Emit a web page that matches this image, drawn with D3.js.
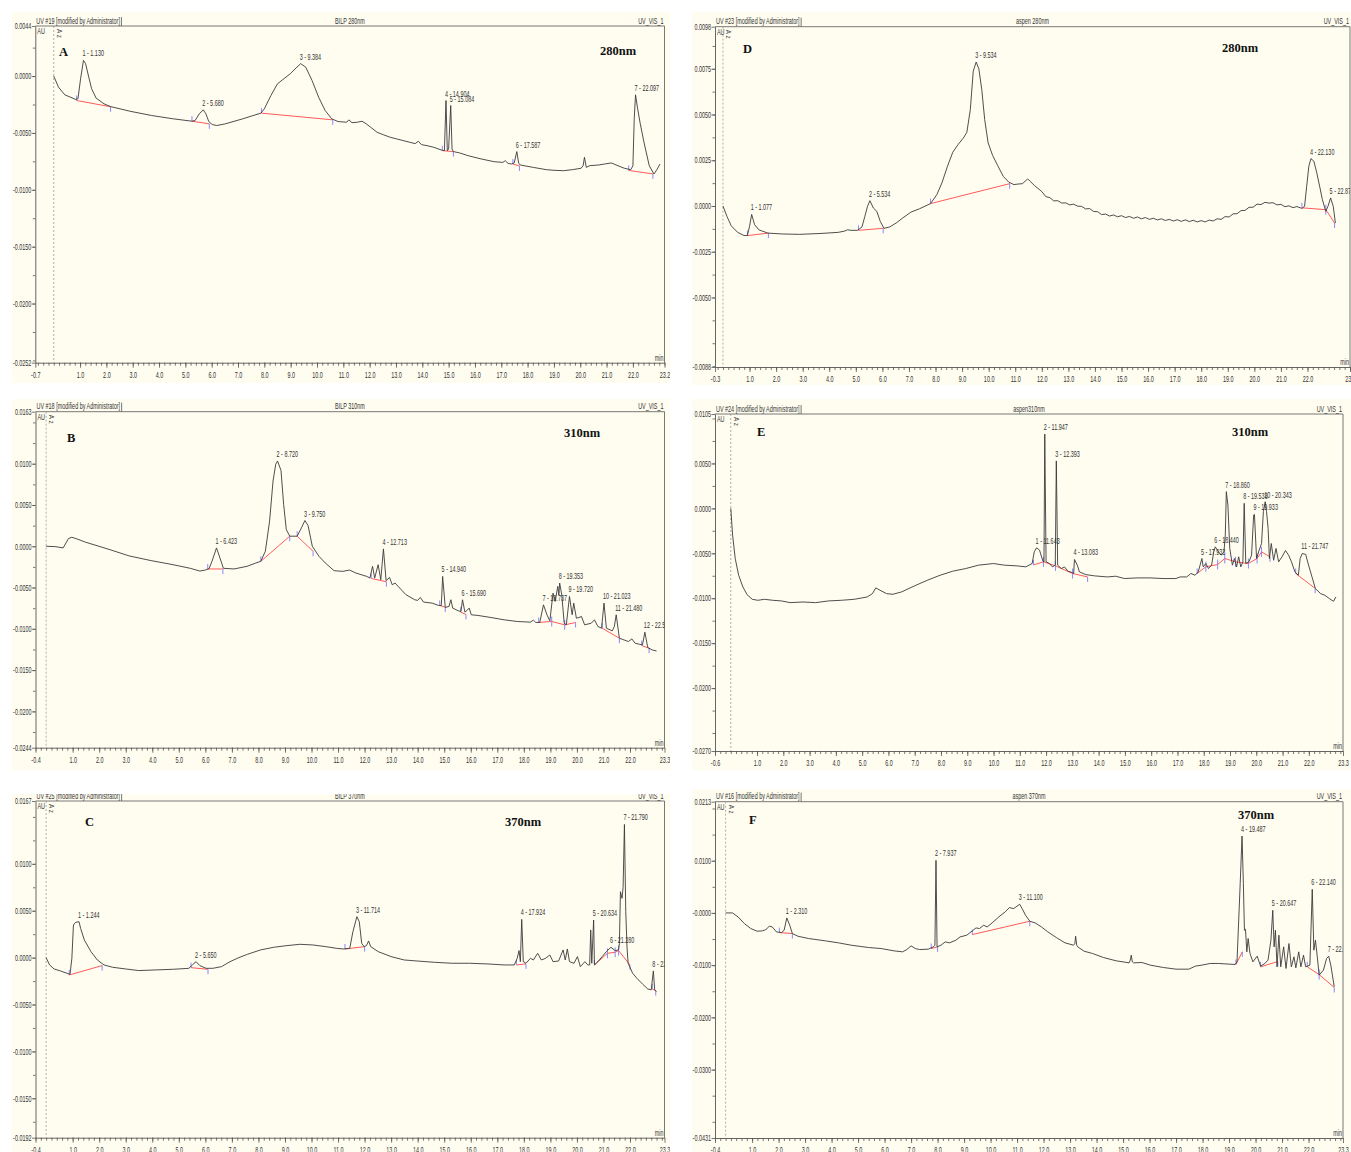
<!DOCTYPE html>
<html>
<head>
<meta charset="utf-8">
<script src="https://cdnjs.cloudflare.com/ajax/libs/d3/7.8.5/d3.min.js"></script>
<style>
body { margin: 0; background: #fff; }
</style>
</head>
<body>
<svg id="chart"></svg>
<script>
// ---- data: [time (min), absorbance (AU)] ----

let traceA = [[0.0,0.0],[0.18,-0.00097],[0.42,-0.00165],[0.84,-0.00206],[0.92,-0.002],[1.02,-0.00024],[1.13,0.00138],[1.21,0.00109],[1.33,-0.00009],[1.44,-0.00112],[1.61,-0.00194],[1.91,-0.00244],[2.15,-0.00268],[2.89,-0.00309],[3.72,-0.00347],[4.54,-0.00376],[5.25,-0.00397],[5.37,-0.00391],[5.53,-0.00332],[5.68,-0.00297],[5.78,-0.00332],[5.89,-0.004],[6.02,-0.00426],[6.19,-0.00435],[6.52,-0.0042],[7.18,-0.00376],[7.87,-0.00326],[8.0,-0.00288],[8.25,-0.00171],[8.5,-0.00068],[8.74,-0.00024],[8.99,0.00021],[9.24,0.00079],[9.38,0.00109],[9.57,0.00079],[9.81,-0.00038],[10.06,-0.00185],[10.31,-0.00303],[10.56,-0.00376],[10.8,-0.004],[11.13,-0.00406],[11.21,-0.00385],[11.33,-0.0041],[11.54,-0.00406],[11.71,-0.00397],[11.87,-0.0042],[12.04,-0.0045],[12.28,-0.00494],[12.53,-0.00517],[12.78,-0.00538],[13.03,-0.00553],[13.27,-0.00567],[13.52,-0.00582],[13.73,-0.00594],[13.85,-0.00573],[13.97,-0.00603],[14.18,-0.00612],[14.43,-0.00626],[14.76,-0.00653],[14.84,-0.00655],[14.9,-0.00215],[14.95,-0.00656],[15.0,-0.00641],[15.08,-0.00259],[15.13,-0.00641],[15.18,-0.00664],[15.42,-0.00676],[15.74,-0.007],[16.24,-0.00729],[16.73,-0.00753],[17.06,-0.00759],[17.15,-0.00744],[17.26,-0.00768],[17.39,-0.00773],[17.49,-0.00764],[17.59,-0.00664],[17.66,-0.00764],[17.72,-0.00782],[18.22,-0.00803],[18.71,-0.00823],[19.04,-0.00829],[19.37,-0.00832],[19.7,-0.00823],[20.03,-0.00811],[20.11,-0.00788],[20.16,-0.00714],[20.23,-0.00803],[20.36,-0.00788],[20.69,-0.00782],[20.93,-0.00773],[21.18,-0.00764],[21.43,-0.00788],[21.68,-0.00811],[21.92,-0.00823],[22.0,-0.00788],[22.05,-0.00376],[22.1,-0.00165],[22.18,-0.00288],[22.28,-0.0042],[22.42,-0.00582],[22.62,-0.00788],[22.8,-0.00861],[22.91,-0.00823],[23.03,-0.00773]]
let peaksA = [["1 - 1.130",1.13,0.00138],["2 - 5.680",5.68,-0.00297],["3 - 9.384",9.38,0.00109],["4 - 14.904",14.9,-0.00215],["5 - 15.084",15.08,-0.00259],["6 - 17.587",17.59,-0.00664],["7 - 22.097",22.1,-0.00165]]
let baseA = [[0.87,-0.00215,2.16,-0.0027],[5.25,-0.00397,5.91,-0.0042],[7.89,-0.00326,10.6,-0.00385],[14.76,-0.00656,15.18,-0.00664],[17.44,-0.00774,17.69,-0.0079],[21.84,-0.0083,22.76,-0.0086]]

let traceD = [[0.0,0.0],[0.15,-0.00057],[0.31,-0.00108],[0.55,-0.00144],[0.79,-0.00161],[0.92,-0.00162],[1.0,-0.00111],[1.08,-0.00046],[1.19,-0.00102],[1.35,-0.0013],[1.68,-0.00148],[2.24,-0.00153],[2.89,-0.00155],[3.69,-0.0015],[4.34,-0.00144],[4.58,-0.00137],[4.69,-0.0013],[4.82,-0.00133],[5.06,-0.00133],[5.23,-0.00115],[5.34,-0.00057],[5.44,-0.00002],[5.53,0.00029],[5.66,-0.00011],[5.79,-0.00029],[5.92,-0.00084],[6.06,-0.00122],[6.27,-0.00115],[6.52,-0.00093],[6.76,-0.00066],[7.08,-0.00033],[7.4,-0.00015],[7.81,0.00013],[8.05,0.00062],[8.24,0.00126],[8.45,0.00217],[8.65,0.00294],[8.85,0.00336],[9.05,0.00372],[9.18,0.00403],[9.31,0.00527],[9.42,0.00737],[9.53,0.00787],[9.63,0.0075],[9.74,0.00637],[9.85,0.00473],[9.98,0.00345],[10.15,0.00276],[10.34,0.00221],[10.55,0.00162],[10.76,0.0013],[10.95,0.00117],[11.11,0.0012],[11.27,0.00122],[11.47,0.00148],[11.56,0.00135],[11.73,0.00111],[12.0,0.00079],[12.15,0.00051],[12.3,0.00046],[12.45,0.00028],[12.6,0.00029],[12.75,0.00016],[12.9,0.00017],[13.05,0.00006],[13.2,0.0001],[13.35,-0.00001],[13.5,-0.00002],[13.65,-0.00016],[13.8,-0.00014],[13.95,-0.0003],[14.1,-0.00031],[14.25,-0.00047],[14.4,-0.00044],[14.55,-0.00055],[14.7,-0.00049],[14.85,-0.00059],[15.0,-0.00053],[15.15,-0.00063],[15.3,-0.00057],[15.45,-0.00067],[15.6,-0.0006],[15.75,-0.0007],[15.9,-0.00063],[16.05,-0.00073],[16.2,-0.00067],[16.35,-0.00076],[16.5,-0.0007],[16.65,-0.00079],[16.8,-0.00073],[16.95,-0.00082],[17.1,-0.00075],[17.25,-0.00084],[17.4,-0.00076],[17.55,-0.00085],[17.7,-0.00078],[17.85,-0.00087],[18.0,-0.0008],[18.15,-0.00087],[18.3,-0.00077],[18.45,-0.00082],[18.6,-0.0007],[18.75,-0.00073],[18.9,-0.00058],[19.05,-0.0006],[19.2,-0.00043],[19.35,-0.00042],[19.5,-0.00025],[19.65,-0.00024],[19.8,-0.00007],[19.95,-0.00007],[20.1,0.0001],[20.25,0.00008],[20.4,0.0002],[20.55,0.00016],[20.7,0.00018],[20.85,0.00006],[21.0,0.00009],[21.15,-0.00004],[21.3,0.00001],[21.45,-0.00009],[21.6,-0.00003],[21.79,-0.00013],[21.89,-0.00002],[21.97,0.00108],[22.05,0.00217],[22.13,0.00259],[22.24,0.00245],[22.35,0.00181],[22.47,0.00099],[22.56,0.00035],[22.69,-0.00029],[22.77,-0.00002],[22.87,0.00044],[22.97,-0.00002],[23.05,-0.00093]]
let peaksD = [["1 - 1.077",1.08,-0.00046],["2 - 5.534",5.53,0.00029],["3 - 9.534",9.53,0.00787],["4 - 22.130",22.13,0.00259],["5 - 22.870",22.87,0.00044]]
let baseD = [[0.92,-0.00162,1.71,-0.00148],[5.1,-0.00133,6.03,-0.00122],[7.81,0.00013,10.79,0.00122],[21.79,-0.0001,22.69,-0.0002],[22.69,-0.0002,23.02,-0.00093]]

let traceB = [[0.0,0.0],[0.34,-0.00004],[0.64,-0.0002],[0.75,0.0004],[0.84,0.00093],[0.97,0.00109],[1.16,0.00089],[1.49,0.00049],[1.99,0.0],[2.48,-0.00049],[3.13,-0.00117],[3.96,-0.00174],[4.78,-0.00223],[5.43,-0.00267],[5.79,-0.003],[6.0,-0.00288],[6.14,-0.00271],[6.25,-0.00182],[6.42,-0.0002],[6.55,-0.00142],[6.68,-0.00267],[7.08,-0.00275],[7.57,-0.00243],[7.9,-0.00203],[8.09,-0.00182],[8.26,-0.00061],[8.42,0.00304],[8.55,0.0079],[8.65,0.00992],[8.72,0.01033],[8.85,0.00919],[8.95,0.00506],[9.05,0.00203],[9.18,0.00122],[9.46,0.00122],[9.62,0.00223],[9.75,0.00312],[9.87,0.00251],[10.03,0.0],[10.28,-0.00122],[10.52,-0.00203],[10.85,-0.00296],[11.18,-0.00304],[11.43,-0.00288],[11.67,-0.00324],[12.08,-0.00365],[12.2,-0.00385],[12.3,-0.00243],[12.38,-0.00385],[12.51,-0.00223],[12.61,-0.00405],[12.71,-0.00032],[12.81,-0.00417],[12.94,-0.00377],[13.04,-0.00466],[13.15,-0.00446],[13.32,-0.00506],[13.56,-0.00587],[13.89,-0.00648],[14.0,-0.00656],[14.1,-0.0062],[14.22,-0.00676],[14.55,-0.00689],[14.79,-0.00717],[14.89,-0.00717],[14.94,-0.00365],[15.04,-0.00741],[15.18,-0.00729],[15.25,-0.00648],[15.32,-0.00749],[15.53,-0.00782],[15.63,-0.0079],[15.69,-0.00648],[15.78,-0.00798],[15.88,-0.0077],[15.94,-0.00749],[16.02,-0.0083],[16.27,-0.00838],[16.76,-0.00863],[17.26,-0.00891],[17.75,-0.00911],[18.24,-0.00919],[18.36,-0.00895],[18.45,-0.00923],[18.6,-0.00923],[18.74,-0.00709],[18.87,-0.0083],[18.98,-0.00903],[19.1,-0.00567],[19.18,-0.00668],[19.28,-0.00486],[19.32,-0.0059],[19.35,-0.00445],[19.43,-0.0059],[19.52,-0.00932],[19.6,-0.00952],[19.72,-0.00608],[19.82,-0.0083],[19.88,-0.00689],[19.98,-0.00871],[20.08,-0.00863],[20.17,-0.0085],[20.29,-0.00952],[20.54,-0.00932],[20.66,-0.00891],[20.79,-0.00972],[20.93,-0.00992],[21.02,-0.00689],[21.11,-0.00992],[21.33,-0.01025],[21.41,-0.00972],[21.48,-0.0083],[21.6,-0.01114],[21.77,-0.01134],[21.94,-0.01154],[22.07,-0.01122],[22.19,-0.01174],[22.35,-0.01187],[22.47,-0.01195],[22.56,-0.01041],[22.67,-0.01227],[22.84,-0.01256],[23.0,-0.01268]]
let peaksB = [["1 - 6.423",6.42,-0.0002],["2 - 8.720",8.72,0.01033],["3 - 9.750",9.75,0.00312],["4 - 12.713",12.71,-0.00032],["5 - 14.940",14.94,-0.00365],["6 - 15.690",15.69,-0.00648],["7 - 18.737",18.74,-0.00709],["8 - 19.353",19.35,-0.00445],["9 - 19.720",19.72,-0.00608],["10 - 21.023",21.02,-0.00689],["11 - 21.480",21.48,-0.0083],["12 - 22.560",22.56,-0.01041]]
let baseB = [[6.09,-0.00275,6.66,-0.00275],[8.09,-0.00182,9.18,0.00122],[9.46,0.00122,10.06,-0.00061],[12.25,-0.0039,12.82,-0.0043],[14.83,-0.00717,15.04,-0.00737],[15.62,-0.00798,15.82,-0.00826],[18.56,-0.00923,19.05,-0.00911],[19.05,-0.00911,19.54,-0.00952],[19.54,-0.00952,19.95,-0.00924],[20.95,-0.00992,21.6,-0.01114],[22.44,-0.01203,22.72,-0.01235]]

let traceE = [[0.0,0.0],[0.07,-0.00298],[0.17,-0.00558],[0.3,-0.00744],[0.46,-0.00874],[0.62,-0.0096],[0.82,-0.01012],[1.03,-0.01023],[1.28,-0.01012],[1.6,-0.01023],[1.93,-0.0103],[2.26,-0.01049],[2.75,-0.01042],[3.23,-0.01049],[3.72,-0.0103],[4.21,-0.01023],[4.7,-0.01012],[5.19,-0.00986],[5.39,-0.00949],[5.52,-0.00885],[5.68,-0.00911],[5.93,-0.00949],[6.17,-0.00956],[6.5,-0.0093],[6.99,-0.00863],[7.48,-0.008],[7.97,-0.00744],[8.45,-0.00699],[8.94,-0.0067],[9.43,-0.00632],[10.0,-0.00614],[10.41,-0.00632],[10.9,-0.0064],[11.23,-0.00651],[11.47,-0.00614],[11.55,-0.00484],[11.64,-0.00439],[11.75,-0.00465],[11.88,-0.00588],[11.92,-0.00595],[11.95,0.00826],[12.0,-0.00595],[12.13,-0.00614],[12.24,-0.00651],[12.35,-0.00632],[12.39,0.00528],[12.44,-0.00632],[12.58,-0.0067],[12.7,-0.00651],[12.83,-0.00699],[12.99,-0.00714],[13.05,-0.00725],[13.08,-0.00569],[13.19,-0.00632],[13.27,-0.00707],[13.51,-0.00737],[13.84,-0.00751],[14.33,-0.00763],[14.65,-0.00755],[14.98,-0.00781],[15.47,-0.00774],[15.96,-0.00774],[16.45,-0.00781],[16.94,-0.00781],[17.1,-0.00763],[17.35,-0.00763],[17.51,-0.00725],[17.67,-0.00744],[17.79,-0.00707],[17.93,-0.00558],[17.98,-0.00651],[18.08,-0.00614],[18.18,-0.0067],[18.3,-0.00632],[18.38,-0.00484],[18.44,-0.00428],[18.56,-0.00484],[18.67,-0.00521],[18.77,-0.00484],[18.82,-0.00298],[18.86,0.00186],[18.92,0.00037],[18.99,-0.00446],[19.09,-0.00632],[19.17,-0.00558],[19.25,-0.00651],[19.33,-0.00539],[19.41,-0.00651],[19.49,-0.00595],[19.54,0.00056],[19.6,-0.00614],[19.72,-0.00595],[19.82,-0.00521],[19.9,-0.00074],[19.93,-0.00067],[20.01,-0.00558],[20.11,-0.00465],[20.2,-0.00391],[20.27,-0.00037],[20.34,0.00074],[20.39,-0.00037],[20.45,-0.00223],[20.5,-0.00558],[20.57,-0.00391],[20.66,-0.00577],[20.75,-0.00446],[20.85,-0.00595],[20.98,-0.00539],[21.11,-0.00469],[21.23,-0.00521],[21.34,-0.00595],[21.47,-0.00707],[21.6,-0.00744],[21.67,-0.00558],[21.75,-0.00502],[21.88,-0.00513],[21.99,-0.00632],[22.12,-0.00763],[22.25,-0.00893],[22.45,-0.00949],[22.61,-0.00967],[22.78,-0.01004],[22.94,-0.01034],[23.03,-0.00986]]
let peaksE = [["1 - 11.643",11.64,-0.00439],["2 - 11.947",11.95,0.00826],["3 - 12.393",12.39,0.00528],["4 - 13.083",13.08,-0.00569],["5 - 17.933",17.93,-0.00558],["6 - 18.440",18.44,-0.00428],["7 - 18.860",18.86,0.00186],["8 - 19.538",19.54,0.00056],["9 - 19.933",19.93,-0.00067],["10 - 20.343",20.34,0.00074],["11 - 21.747",21.75,-0.00502]]
let baseE = [[11.52,-0.00629,11.9,-0.00595],[11.9,-0.00595,12.36,-0.0064],[12.36,-0.0064,13.01,-0.00725],[13.01,-0.00725,13.58,-0.00763],[17.75,-0.00725,18.08,-0.0065],[18.08,-0.0065,18.53,-0.00625],[18.53,-0.00625,18.8,-0.00558],[18.8,-0.00558,19.21,-0.00595],[19.21,-0.00595,19.7,-0.00614],[19.7,-0.00614,20.03,-0.00558],[20.03,-0.00558,20.2,-0.00484],[20.2,-0.00484,20.52,-0.00539],[21.5,-0.00725,22.24,-0.0089]]

let traceC = [[0.0,0.0],[0.13,-0.00078],[0.3,-0.00121],[0.54,-0.00142],[0.79,-0.00167],[0.9,-0.00178],[0.97,-0.00007],[1.03,0.00348],[1.11,0.00376],[1.24,0.00383],[1.3,0.00312],[1.44,0.00188],[1.69,0.00064],[1.93,-0.00025],[2.18,-0.00078],[2.51,-0.00103],[3.0,-0.00121],[3.49,-0.00138],[4.15,-0.00131],[4.8,-0.00124],[5.38,-0.00114],[5.51,-0.00078],[5.65,-0.00043],[5.79,-0.00085],[6.03,-0.00114],[6.28,-0.00114],[6.61,-0.00096],[6.93,-0.00043],[7.26,0.0],[7.59,0.00036],[8.08,0.00082],[8.57,0.0011],[9.07,0.00128],[9.56,0.00142],[10.05,0.00135],[10.54,0.00117],[10.95,0.00099],[11.2,0.00092],[11.44,0.00099],[11.56,0.00277],[11.71,0.00437],[11.8,0.00383],[11.89,0.00153],[11.98,0.00117],[12.07,0.00128],[12.15,0.00178],[12.23,0.00117],[12.51,0.00064],[13.0,0.00011],[13.49,-0.00025],[13.98,-0.00036],[14.64,-0.0005],[15.3,-0.0006],[15.95,-0.0006],[16.61,-0.00067],[17.26,-0.00078],[17.64,-0.00078],[17.75,-0.00007],[17.82,0.00075],[17.87,-0.00043],[17.92,0.00408],[17.98,-0.00043],[18.08,-0.0006],[18.25,-0.00007],[18.36,-0.00025],[18.52,0.00046],[18.66,-0.00025],[18.82,-0.00007],[18.98,0.00028],[19.1,-0.00043],[19.31,-0.00036],[19.48,0.00082],[19.56,-0.00025],[19.64,0.00092],[19.72,-0.00043],[19.89,-0.0006],[20.02,0.00011],[20.13,-0.00096],[20.3,-0.00043],[20.41,-0.00078],[20.48,-0.00078],[20.52,0.00295],[20.56,-0.0006],[20.63,0.00401],[20.66,-0.00078],[20.79,-0.00043],[20.95,0.00011],[21.11,0.00064],[21.28,0.0011],[21.44,0.00075],[21.57,0.00082],[21.6,0.0015],[21.64,0.00703],[21.7,0.00632],[21.74,0.0075],[21.79,0.0142],[21.84,0.0049],[21.89,0.001],[21.93,-0.0006],[22.1,-0.00167],[22.26,-0.0022],[22.48,-0.00284],[22.67,-0.00334],[22.8,-0.00344],[22.88,-0.00142],[22.93,-0.00344],[23.0,-0.00362]]
let peaksC = [["1 - 1.244",1.24,0.00383],["2 - 5.650",5.65,-0.00043],["3 - 11.714",11.71,0.00437],["4 - 17.924",17.92,0.00408],["5 - 20.634",20.63,0.00401],["6 - 21.280",21.28,0.0011],["7 - 21.790",21.79,0.0142],["8 - 22.880",22.88,-0.00142]]
let baseC = [[0.87,-0.00185,2.11,-0.00085],[5.46,-0.00107,6.1,-0.00124],[11.26,0.00092,12.0,0.00117],[17.72,-0.00078,18.08,-0.00067],[20.66,-0.00078,21.15,0.00046],[21.15,0.00046,21.44,0.00057],[21.44,0.00057,21.57,0.00075],[21.57,0.00075,22.0,-0.00078],[22.84,-0.00334,22.97,-0.00352]]

let traceF = [[0.0,0.0],[0.26,0.0],[0.47,-0.00076],[0.71,-0.00204],[0.95,-0.00299],[1.19,-0.0035],[1.39,-0.00344],[1.52,-0.00318],[1.65,-0.00255],[1.76,-0.00268],[1.92,-0.00363],[2.11,-0.00376],[2.21,-0.00331],[2.31,-0.00096],[2.42,-0.00236],[2.52,-0.00395],[2.73,-0.00446],[3.13,-0.0049],[3.77,-0.00535],[4.26,-0.00573],[4.74,-0.00618],[5.39,-0.00662],[5.87,-0.00682],[6.35,-0.00726],[6.68,-0.00745],[6.84,-0.00701],[7.0,-0.00631],[7.16,-0.00682],[7.32,-0.00701],[7.65,-0.00694],[7.84,-0.0065],[7.9,-0.00618],[7.94,0.01006],[7.98,-0.0065],[8.13,-0.00618],[8.29,-0.00554],[8.45,-0.00573],[8.69,-0.00522],[8.85,-0.00459],[9.1,-0.00427],[9.31,-0.00344],[9.45,-0.00287],[9.58,-0.00299],[9.74,-0.00236],[9.87,-0.00268],[10.06,-0.00191],[10.31,-0.00076],[10.55,0.00019],[10.71,0.00102],[10.87,0.00083],[11.1,0.00166],[11.19,0.00083],[11.32,-0.00045],[11.48,-0.00159],[11.68,-0.00191],[11.92,-0.00268],[12.16,-0.00363],[12.48,-0.00471],[12.81,-0.00573],[13.13,-0.00618],[13.18,-0.00586],[13.21,-0.00446],[13.25,-0.00618],[13.29,-0.0065],[13.53,-0.00733],[13.85,-0.00777],[14.26,-0.00854],[14.74,-0.00917],[15.23,-0.00956],[15.27,-0.00905],[15.31,-0.00809],[15.35,-0.00937],[15.39,-0.00956],[15.71,-0.00949],[16.03,-0.01],[16.52,-0.01045],[17.0,-0.01077],[17.48,-0.01077],[17.73,-0.01019],[17.97,-0.01],[18.29,-0.00968],[18.61,-0.00968],[19.02,-0.00981],[19.23,-0.00987],[19.3,-0.00936],[19.42,0.00561],[19.49,0.01471],[19.54,0.00561],[19.58,-0.00331],[19.62,-0.00312],[19.67,-0.00745],[19.72,-0.0049],[19.79,-0.00777],[19.9,-0.00936],[20.06,-0.00828],[20.19,-0.01019],[20.35,-0.00968],[20.47,-0.00905],[20.58,-0.00522],[20.65,0.00051],[20.7,-0.0065],[20.75,-0.00331],[20.81,-0.01032],[20.88,-0.00427],[20.95,-0.01032],[21.06,-0.0065],[21.15,-0.01064],[21.26,-0.00586],[21.35,-0.01032],[21.45,-0.00841],[21.52,-0.01051],[21.63,-0.00745],[21.71,-0.01032],[21.81,-0.00809],[21.89,-0.01032],[22.05,-0.01],[22.14,0.00452],[22.2,-0.00713],[22.26,-0.00522],[22.33,-0.00841],[22.4,-0.01191],[22.56,-0.01096],[22.68,-0.00873],[22.76,-0.00828],[22.84,-0.01],[22.97,-0.01414]]
let peaksF = [["1 - 2.310",2.31,-0.00096],["2 - 7.937",7.94,0.01006],["3 - 11.100",11.1,0.00166],["4 - 19.487",19.49,0.01471],["5 - 20.647",20.65,0.00051],["6 - 22.140",22.14,0.00452],["7 - 22.760",22.76,-0.00828]]
let baseF = [[2.03,-0.00376,2.52,-0.00395],[7.76,-0.00682,8.0,-0.0065],[9.31,-0.00414,11.48,-0.00159],[19.26,-0.00987,19.5,-0.00745],[20.19,-0.01032,20.84,-0.0093],[21.95,-0.01032,22.4,-0.0118],[22.4,-0.0118,22.97,-0.01428]]

// axis ends and tick labels
let xRangeA = [-0.7, 23.2], yRangeA = [0.0044, -0.0252]
let xRangeD = [-0.3, 23.6], yRangeD = [0.0098, -0.0088]
let xRangeB = [-0.4, 23.3], yRangeB = [0.0163, -0.0244]
let xRangeE = [-0.6, 23.3], yRangeE = [0.0105, -0.027]
let xRangeC = [-0.4, 23.3], yRangeC = [0.0167, -0.0192]
let xRangeF = [-0.4, 23.3], yRangeF = [0.0213, -0.0431]

let yTicksA = ["0.0044", "0.0000", "-0.0050", "-0.0100", "-0.0150", "-0.0200", "-0.0252"]
let yTicksD = ["0.0098", "0.0075", "0.0050", "0.0025", "0.0000", "-0.0025", "-0.0050", "-0.0088"]
let yTicksB = ["0.0163", "0.0100", "0.0050", "0.0000", "-0.0050", "-0.0100", "-0.0150", "-0.0200", "-0.0244"]
let yTicksE = ["0.0105", "0.0050", "0.0000", "-0.0050", "-0.0100", "-0.0150", "-0.0200", "-0.0270"]
let yTicksC = ["0.0167", "0.0100", "0.0050", "0.0000", "-0.0050", "-0.0100", "-0.0150", "-0.0192"]
let yTicksF = ["0.0213", "0.0100", "-0.0000", "-0.0100", "-0.0200", "-0.0300", "-0.0431"]

let headA = ["UV #19 [modified by Administrator]", "BILP 280nm", "UV_VIS_1"]
let headD = ["UV #23 [modified by Administrator]", "aspen 280nm", "UV_VIS_1"]
let headB = ["UV #18 [modified by Administrator]", "BILP 310nm", "UV_VIS_1"]
let headE = ["UV #24 [modified by Administrator]", "aspen310nm", "UV_VIS_1"]
let headC = ["UV #25 [modified by Administrator]", "BILP 370nm", "UV_VIS_1"]
let headF = ["UV #16 [modified by Administrator]", "aspen 370nm", "UV_VIS_1"]

// ---- layout ----
let width = 1351
let height = 1152
let narrow = 0.64
let cream = '#fffdf0'
let sansFont = '"Liberation Sans", Arial, sans-serif'
let serifFont = '"Liberation Serif", "Times New Roman", serif'

let panels = [
    {id: 'A', nm: '280nm', trace: traceA, peaks: peaksA, base: baseA, yTicks: yTicksA, head: headA, xRange: xRangeA, yRange: yRangeA,
     left: 35.3, right: 664.5, top: 26, bottom: 362.7, bg: [12, 12, 670, 383], letterAt: [59, 56], nmAt: [600, 55], minor: 0.0025},
    {id: 'D', nm: '280nm', trace: traceD, peaks: peaksD, base: baseD, yTicks: yTicksD, head: headD, xRange: xRangeD, yRange: yRangeD,
     left: 715, right: 1350, top: 26.7, bottom: 367, bg: [692, 12, 1351, 385], letterAt: [743, 53], nmAt: [1222, 52], minor: 0.00125},
    {id: 'B', nm: '310nm', trace: traceB, peaks: peaksB, base: baseB, yTicks: yTicksB, head: headB, xRange: xRangeB, yRange: yRangeB,
     left: 35.5, right: 664.5, top: 411.7, bottom: 747.7, bg: [12, 399, 670, 770], letterAt: [67, 442], nmAt: [564, 437], minor: 0.0025},
    {id: 'E', nm: '310nm', trace: traceE, peaks: peaksE, base: baseE, yTicks: yTicksE, head: headE, xRange: xRangeE, yRange: yRangeE,
     left: 715, right: 1343, top: 414, bottom: 751, bg: [692, 399, 1351, 770], letterAt: [757, 436], nmAt: [1232, 436], minor: 0.0025},
    {id: 'C', nm: '370nm', trace: traceC, peaks: peaksC, base: baseC, yTicks: yTicksC, head: headC, xRange: xRangeC, yRange: yRangeC,
     left: 35.5, right: 664.5, top: 801, bottom: 1137.7, bg: [12, 794, 670, 1152], letterAt: [85, 826], nmAt: [505, 826], minor: 0.0025},
    {id: 'F', nm: '370nm', trace: traceF, peaks: peaksF, base: baseF, yTicks: yTicksF, head: headF, xRange: xRangeF, yRange: yRangeF,
     left: 715, right: 1343, top: 801.7, bottom: 1138, bg: [692, 789, 1351, 1152], letterAt: [749, 824], nmAt: [1238, 819], minor: 0.005}
]

let svg = d3.select('#chart').attr('width', width).attr('height', height)
let defs = svg.append('defs')

// condensed text, the way the chromatography software prints it
let smallText = (g, x, y, str, anchor) => {
    return g.append('text')
        .attr('transform', 'translate(' + x + ',' + y + ') scale(' + narrow + ',1)')
        .attr('text-anchor', anchor || 'start')
        .style('font-family', sansFont)
        .style('font-size', '8.5px')
        .attr('fill', '#333')
        .text(str)
}

let bigText = (g, x, y, str) => {
    return g.append('text')
        .attr('x', x).attr('y', y)
        .style('font-family', serifFont)
        .style('font-weight', 'bold')
        .style('font-size', '12.5px')
        .attr('fill', '#111')
        .text(str)
}

let drawPanel = (p) => {
    let xScale = d3.scaleLinear().domain(p.xRange).range([p.left, p.right])
    let yScale = d3.scaleLinear().domain(p.yRange).range([p.top, p.bottom])

    defs.append('clipPath').attr('id', 'bg' + p.id)
        .append('rect')
        .attr('x', p.bg[0]).attr('y', p.bg[1])
        .attr('width', p.bg[2] - p.bg[0]).attr('height', p.bg[3] - p.bg[1])
    defs.append('clipPath').attr('id', 'plot' + p.id)
        .append('rect')
        .attr('x', p.left).attr('y', p.top)
        .attr('width', p.right - p.left).attr('height', p.bottom - p.top)

    let g = svg.append('g').attr('clip-path', 'url(#bg' + p.id + ')')

    g.append('rect')
        .attr('x', p.bg[0]).attr('y', p.bg[1])
        .attr('width', p.bg[2] - p.bg[0]).attr('height', p.bg[3] - p.bg[1])
        .attr('fill', cream)

    // header row
    let h1 = smallText(g, p.left + 1, p.top - 2.5, p.head[0])
    let endX = p.left + 1 + h1.node().getComputedTextLength() * narrow + 1.5
    g.append('line')
        .attr('x1', endX).attr('x2', endX)
        .attr('y1', p.top - 9).attr('y2', p.top)
        .attr('stroke', '#555').attr('stroke-width', 0.8)
    smallText(g, (p.left + p.right) / 2, p.top - 2.5, p.head[1], 'middle')
    smallText(g, p.right - 1, p.top - 2.5, p.head[2], 'end')

    // frame: top and right
    g.append('line')
        .attr('x1', p.left).attr('x2', p.right)
        .attr('y1', p.top).attr('y2', p.top)
        .attr('stroke', '#555').attr('stroke-width', 0.8)
    g.append('line')
        .attr('x1', p.right).attr('x2', p.right)
        .attr('y1', p.top).attr('y2', p.bottom)
        .attr('stroke', '#555').attr('stroke-width', 0.8)

    // x axis: minor ticks every 0.2 min, labelled ticks each minute
    let minorX = d3.range(Math.ceil(p.xRange[0] * 5), Math.floor(p.xRange[1] * 5) + 1).map(k => k / 5)
    let majorX = [p.xRange[0]].concat(d3.range(1, 23)).concat([p.xRange[1]])

    g.append('g')
        .attr('transform', 'translate(0,' + p.bottom + ')')
        .call(d3.axisBottom(xScale).tickValues(minorX).tickSize(3).tickSizeOuter(0).tickFormat(''))
        .call(a => a.select('.domain').remove())
        .call(a => a.selectAll('line').attr('stroke', '#555').attr('stroke-width', 0.8))

    g.append('g')
        .attr('transform', 'translate(0,' + p.bottom + ')')
        .call(d3.axisBottom(xScale).tickValues(majorX).tickSize(5).tickSizeOuter(0).tickPadding(4)
            .tickFormat(d => d.toFixed(1)))
        .call(a => a.select('.domain').attr('stroke', '#555').attr('stroke-width', 0.9))
        .call(a => a.selectAll('line').attr('stroke', '#555').attr('stroke-width', 0.8))
        .call(a => a.selectAll('text')
            .style('font-size', '8.5px')
            .style('font-family', sansFont)
            .attr('fill', '#333')
            .attr('transform', 'scale(' + narrow + ',1)'))

    smallText(g, p.right - 1, p.bottom - 2, 'min', 'end')

    // y axis
    let yVals = p.yTicks.map(s => +s)
    let minorY = d3.range(Math.ceil(p.yRange[1] / p.minor), Math.floor(p.yRange[0] / p.minor) + 1).map(k => k * p.minor)

    g.append('g')
        .attr('transform', 'translate(' + p.left + ',0)')
        .call(d3.axisLeft(yScale).tickValues(minorY).tickSize(2.5).tickSizeOuter(0).tickFormat(''))
        .call(a => a.select('.domain').remove())
        .call(a => a.selectAll('line').attr('stroke', '#555').attr('stroke-width', 0.8))

    g.append('g')
        .attr('transform', 'translate(' + p.left + ',0)')
        .call(d3.axisLeft(yScale).tickValues(yVals).tickSize(3.5).tickSizeOuter(0)
            .tickFormat((d, i) => p.yTicks[i]))
        .call(a => a.select('.domain').attr('stroke', '#555').attr('stroke-width', 0.9))
        .call(a => a.selectAll('line').attr('stroke', '#555').attr('stroke-width', 0.8))
        .call(a => a.selectAll('text')
            .style('font-size', '8.5px')
            .style('font-family', sansFont)
            .attr('fill', '#333')
            .attr('x', -4 / narrow)
            .attr('transform', 'scale(' + narrow + ',1)'))

    smallText(g, p.left + 2, p.top + 8, 'AU')

    // panel letter and wavelength
    bigText(g, p.letterAt[0], p.letterAt[1], p.id)
    bigText(g, p.nmAt[0], p.nmAt[1], p.nm)

    let plot = g.append('g').attr('clip-path', 'url(#plot' + p.id + ')')

    // injection marker
    plot.append('line')
        .attr('x1', xScale(0)).attr('x2', xScale(0))
        .attr('y1', p.top).attr('y2', p.bottom)
        .attr('stroke', '#999').attr('stroke-width', 0.8)
        .attr('stroke-dasharray', '2,2')
    plot.append('text')
        .attr('transform', 'translate(' + (xScale(0) + 3) + ',' + (p.top + 3) + ') rotate(90)')
        .style('font-family', sansFont)
        .style('font-size', '6.5px')
        .attr('fill', '#444')
        .text('A z')

    // integration baselines
    plot.selectAll('.base')
        .data(p.base)
        .enter()
        .append('line')
        .attr('x1', d => xScale(d[0])).attr('y1', d => yScale(d[1]))
        .attr('x2', d => xScale(d[2])).attr('y2', d => yScale(d[3]))
        .attr('stroke', '#ff5a5a').attr('stroke-width', 1)

    plot.selectAll('.tickStart')
        .data(p.base)
        .enter()
        .append('line')
        .attr('x1', d => xScale(d[0])).attr('x2', d => xScale(d[0]))
        .attr('y1', d => yScale(d[1]) - 5).attr('y2', d => yScale(d[1]))
        .attr('stroke', '#7b7bff').attr('stroke-width', 0.9)

    plot.selectAll('.tickEnd')
        .data(p.base)
        .enter()
        .append('line')
        .attr('x1', d => xScale(d[2])).attr('x2', d => xScale(d[2]))
        .attr('y1', d => yScale(d[3])).attr('y2', d => yScale(d[3]) + 5)
        .attr('stroke', '#7b7bff').attr('stroke-width', 0.9)

    // the trace
    let line = d3.line()
        .x(d => xScale(d[0]))
        .y(d => yScale(d[1]))

    plot.append('path')
        .datum(p.trace)
        .attr('d', line)
        .attr('fill', 'none')
        .attr('stroke', '#3a3a3a')
        .attr('stroke-width', 0.9)
        .attr('stroke-linejoin', 'round')

    // peak labels
    p.peaks.forEach(pk => {
        smallText(plot, xScale(pk[1]) - 1, yScale(pk[2]) - 4, pk[0])
    })
}

panels.forEach(drawPanel)
</script>
</body>
</html>
